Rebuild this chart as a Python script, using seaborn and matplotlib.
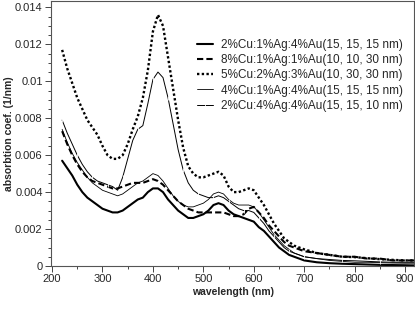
import numpy as np
import pandas as pd
import matplotlib
matplotlib.use("Agg")
import matplotlib.pyplot as plt
import seaborn as sns
from matplotlib.ticker import MultipleLocator, FormatStrFormatter

# wavelength grid (nm)
wavelength = [220, 230, 240, 250, 260, 270, 280, 290, 300, 310, 320, 330, 340, 350,
              360, 370, 380, 390, 400, 410, 420, 430, 440, 450, 460, 470, 480, 490,
              500, 510, 520, 530, 540, 550, 560, 570, 580, 590, 600, 610, 620, 630,
              640, 650, 660, 670, 680, 690, 700, 725, 750, 775, 800, 825, 850, 875,
              900, 920]

# 2%Cu:1%Ag:4%Au(15, 15, 15 nm)
s1 = [0.0057, 0.0053, 0.0049, 0.0044, 0.0040, 0.0037, 0.0035, 0.0033, 0.0031, 0.0030,
      0.0029, 0.0029, 0.0030, 0.0032, 0.0034, 0.0036, 0.0037, 0.0040, 0.0042, 0.0042,
      0.0040, 0.0036, 0.0033, 0.0030, 0.0028, 0.0026, 0.0026, 0.0027, 0.0028, 0.0030,
      0.0033, 0.0034, 0.0033, 0.0030, 0.0028, 0.0027, 0.0026, 0.0025, 0.0024, 0.0021,
      0.0019, 0.0016, 0.0013, 0.0010, 0.0008, 0.0006, 0.0005, 0.0004, 0.0003, 0.0002,
      0.00015, 0.00012, 0.0001, 0.00008, 0.00006, 0.00005, 0.00004, 0.00003]

# 8%Cu:1%Ag:1%Au(10, 10, 30 nm)
s2 = [0.0073, 0.0066, 0.0060, 0.0055, 0.0051, 0.0048, 0.0046, 0.0045, 0.0044, 0.0043,
      0.0042, 0.0042, 0.0043, 0.0044, 0.0045, 0.0045, 0.0045, 0.0046, 0.0047, 0.0046,
      0.0044, 0.0041, 0.0038, 0.0035, 0.0033, 0.0031, 0.0030, 0.0029, 0.0029, 0.0029,
      0.0029, 0.0029, 0.0029, 0.0028, 0.0027, 0.0027, 0.0028, 0.0031, 0.0032, 0.0029,
      0.0026, 0.0022, 0.0019, 0.0016, 0.0013, 0.0011, 0.0010, 0.0009, 0.0008, 0.0007,
      0.0006, 0.0005, 0.0005, 0.0004, 0.0004, 0.0003, 0.0003, 0.0003]

# 5%Cu:2%Ag:3%Au(10, 30, 30 nm)
s3 = [0.0117, 0.0107, 0.0099, 0.0091, 0.0085, 0.0079, 0.0075, 0.0071, 0.0065, 0.0060,
      0.0058, 0.0058, 0.0060, 0.0066, 0.0074, 0.0081, 0.0091, 0.0106, 0.0127, 0.0136,
      0.0130, 0.0113, 0.0096, 0.0079, 0.0064, 0.0054, 0.0050, 0.0048, 0.0048, 0.0049,
      0.0050, 0.0051, 0.0049, 0.0043, 0.0040, 0.0040, 0.0041, 0.0042, 0.0041, 0.0037,
      0.0033, 0.0028, 0.0023, 0.0019, 0.0015, 0.0013, 0.0011, 0.0010, 0.0009, 0.0007,
      0.0006, 0.0005, 0.00048, 0.00042, 0.00037, 0.00033, 0.0003, 0.0003]

# 4%Cu:1%Ag:4%Au(15, 15, 15 nm)
s4 = [0.0074, 0.0067, 0.0061, 0.0056, 0.0052, 0.0048, 0.0045, 0.0043, 0.0041, 0.0040,
      0.0039, 0.0038, 0.0039, 0.0041, 0.0043, 0.0045, 0.0046, 0.0048, 0.0050, 0.0049,
      0.0046, 0.0042, 0.0038, 0.0035, 0.0033, 0.0032, 0.0032, 0.0033, 0.0034, 0.0036,
      0.0039, 0.0040, 0.0039, 0.0036, 0.0034, 0.0033, 0.0033, 0.0033, 0.0032, 0.0029,
      0.0025, 0.0021, 0.0017, 0.0014, 0.0011, 0.0009, 0.0007, 0.0006, 0.0005, 0.0004,
      0.0003, 0.00025, 0.0002, 0.0002, 0.00018, 0.00016, 0.00015, 0.00015]

# 2%Cu:4%Ag:4%Au(15, 15, 10 nm)
s5 = [0.0079, 0.0072, 0.0066, 0.0060, 0.0055, 0.0051, 0.0048, 0.0046, 0.0045, 0.0044,
      0.0043, 0.0041, 0.0048, 0.0058, 0.0068, 0.0074, 0.0076, 0.0088, 0.0101, 0.0105,
      0.0102, 0.0091, 0.0077, 0.0063, 0.0052, 0.0045, 0.0041, 0.0039, 0.0038, 0.0037,
      0.0037, 0.0038, 0.0037, 0.0035, 0.0033, 0.0031, 0.0030, 0.0030, 0.0029, 0.0026,
      0.0023, 0.0019, 0.0016, 0.0013, 0.0010, 0.0008, 0.0007, 0.0006, 0.0005, 0.0004,
      0.00035, 0.0003, 0.00028, 0.00025, 0.00022, 0.0002, 0.0002, 0.0002]

labels = ['2%Cu:1%Ag:4%Au(15, 15, 15 nm)',
          '8%Cu:1%Ag:1%Au(10, 10, 30 nm)',
          '5%Cu:2%Ag:3%Au(10, 30, 30 nm)',
          '4%Cu:1%Ag:4%Au(15, 15, 15 nm)',
          '2%Cu:4%Ag:4%Au(15, 15, 10 nm)']
series = [s1, s2, s3, s4, s5]

sns.set_style("ticks")
plt.rcParams['font.family'] = ['Liberation Sans', 'DejaVu Sans']

styles = [dict(linestyle='-', linewidth=1.5),
          dict(linestyle=(0, (3, 1.5)), linewidth=1.5),
          dict(linestyle=(0, (1, 1)), linewidth=1.7),
          dict(linestyle='-', linewidth=0.6),
          dict(linestyle='-', linewidth=0.7, marker='|', markersize=2.5,
               markeredgewidth=0.6, markevery=3)]

fig = plt.figure(figsize=(4.15, 3.22), dpi=100)
ax = fig.add_axes([0.123, 0.174, 0.875, 0.823])

for lab, vals, st in zip(labels, series, styles):
    sns.lineplot(x=wavelength, y=vals, ax=ax, color='black', label=lab, sort=False, **st)

ax.set_xlim(198, 918)
ax.set_ylim(0, 0.01435)
ax.xaxis.set_major_locator(MultipleLocator(100))
ax.xaxis.set_minor_locator(MultipleLocator(50))
ax.yaxis.set_major_locator(MultipleLocator(0.002))
ax.yaxis.set_minor_locator(MultipleLocator(0.0005))
ax.yaxis.set_major_formatter(FormatStrFormatter('%g'))
ax.tick_params(which='both', direction='out', labelsize=8, width=0.6, pad=2)
ax.tick_params(which='major', length=4)
ax.tick_params(which='minor', length=2)
for sp in ax.spines.values():
    sp.set_linewidth(0.8)
    sp.set_color('#555555')

ax.set_xlabel('wavelength (nm)', fontsize=7.5, fontweight='bold', labelpad=2)
ax.set_ylabel('absorbtion coef. (1/nm)', fontsize=7.5, fontweight='bold', labelpad=1)

ax.legend(loc='upper right', bbox_to_anchor=(0.985, 0.88), frameon=False, fontsize=8.5,
          handlelength=1.3, handletextpad=0.7, labelspacing=0.28, borderpad=0)

fig.savefig('out.png', dpi=100)
